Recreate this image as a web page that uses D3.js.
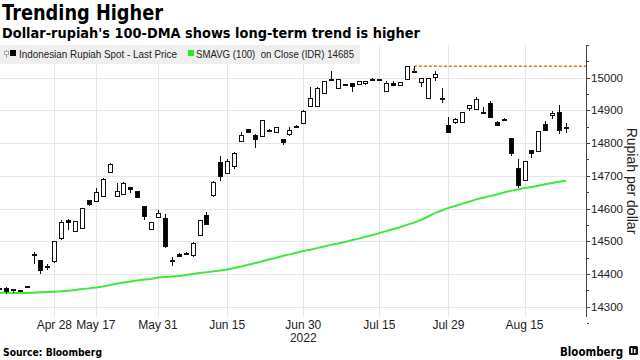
<!DOCTYPE html>
<html><head><meta charset="utf-8">
<script src="https://cdn.jsdelivr.net/npm/d3@7"></script>
<style>body{margin:0;background:#fff}svg{display:block}</style>
</head><body>
<svg id="c" width="640" height="360"></svg>
<script>
const dates = ["Apr 18","Apr 19","Apr 20","Apr 21","Apr 22","Apr 25","Apr 26","Apr 27","Apr 28",
"May 9","May 10","May 11","May 12","May 13","May 17","May 18","May 19","May 20","May 23","May 24","May 25","May 27","May 30","May 31",
"Jun 2","Jun 3","Jun 6","Jun 7","Jun 8","Jun 9","Jun 10","Jun 13","Jun 14","Jun 15","Jun 16","Jun 17","Jun 20","Jun 21","Jun 22","Jun 23","Jun 24","Jun 27","Jun 28","Jun 29","Jun 30",
"Jul 1","Jul 4","Jul 5","Jul 6","Jul 7","Jul 8","Jul 11","Jul 12","Jul 13","Jul 14","Jul 15","Jul 18","Jul 19","Jul 20","Jul 21","Jul 22","Jul 25","Jul 26","Jul 27","Jul 28","Jul 29",
"Aug 1","Aug 2","Aug 3","Aug 4","Aug 5","Aug 8","Aug 9","Aug 10","Aug 11","Aug 12","Aug 15","Aug 16","Aug 18","Aug 19","Aug 22","Aug 23","Aug 24"];
const open  = [14355,14357,14354,14349,14360,14459,14440,14420,14437,14507,14565,14529,14540,14625,14623,14636,14711,14638,14643,14663,14652,14606,14537,14572,14570,14439,14460,14464,14455,14517,14580,14641,14740,14708,14728,14806,14841,14822,14820,14838,14832,14810,14825,14849,14861,14911,14913,14952,14996,14968,14979,14983,14980,14981,14990,14994,14957,14981,14977,14996,15020,14985,14937,15000,14937,14855,14862,14864,14905,14903,14895,14922,14864,14872,14815,14723,14687,14776,14774,14858,14883,14894,14846];
const high  = [14358,14360,14355,14350,14363,14468,14442,14430,14501,14566,14568,14560,14601,14627,14664,14692,14738,14677,14680,14664,14655,14608,14560,14596,14583,14451,14463,14468,14497,14565,14590,14683,14762,14752,14772,14835,14843,14828,14872,14843,14849,14812,14850,14855,14900,14972,14971,14990,15021,14997,14981,14985,14990,14990,15000,14995,14991,14991,14988,15036,15035,14999,15000,15020,14970,14879,14876,14895,14918,14940,14911,14930,14867,14876,14817,14750,14745,14779,14837,14867,14897,14917,14862];
const low   = [14350,14339,14343,14344,14358,14430,14400,14412,14435,14505,14534,14527,14538,14607,14621,14634,14709,14636,14641,14648,14632,14565,14535,14570,14480,14425,14451,14457,14453,14515,14549,14634,14685,14705,14720,14804,14830,14784,14818,14836,14830,14794,14823,14846,14858,14909,14911,14950,14994,14966,14975,14957,14978,14978,14989,14992,14955,14976,14976,14994,15015,14972,14935,14990,14922,14831,14860,14862,14898,14901,14892,14876,14851,14870,14761,14662,14685,14754,14772,14836,14875,14828,14830];
const close = [14352,14346,14353,14345,14362,14461,14412,14422,14499,14558,14558,14559,14599,14613,14650,14689,14735,14651,14676,14658,14634,14577,14558,14584,14483,14441,14453,14459,14494,14563,14551,14681,14697,14745,14769,14823,14833,14812,14868,14840,14847,14803,14838,14851,14898,14937,14968,14988,14995,14995,14977,14972,14988,14987,14995,14993,14983,14977,14986,15034,15017,14998,14998,15011,14932,14833,14873,14893,14914,14934,14893,14878,14853,14873,14767,14669,14743,14769,14835,14838,14891,14838,14848];
// 100-day moving average read at each trading day
const sma = [14343,14343,14342,14342,14342,14343,14344,14345,14346,14347,14349,14351,14354,14356,14359,14362,14366,14370,14374,14377,14380,14383,14385,14389,14391,14392,14394,14397,14400,14403,14405,14408,14411,14414,14418,14423,14428,14433,14438,14444,14449,14455,14460,14465,14470,14474,14479,14484,14489,14493,14498,14503,14508,14514,14519,14525,14531,14537,14543,14550,14557,14565,14575,14586,14594,14602,14608,14615,14621,14628,14633,14638,14643,14649,14654,14658,14663,14666,14670,14674,14678,14682,14685];
const resistanceStart = 60, resistanceValue = 15035;
const xTickDates = ["Apr 28","May 17","May 31","Jun 15","Jun 30","Jul 15","Jul 29","Aug 15"];
const yTicks = [14300,14400,14500,14600,14700,14800,14900,15000];
const yMinor = [14250,14350,14450,14550,14650,14750,14850,14950,15050,15100];

const svg = d3.select("#c");
const W=640,H=360;
const plot = {left:0,right:586,top:45,bottom:317};
const x = d3.scaleLinear().domain([0, dates.length-1]).range([-1, 566]);
const y = d3.scaleLinear().domain([14300,15000]).range([306.7, 77.7]);
const FONT = "'Liberation Sans', Arial, sans-serif";

svg.append("rect").attr("width",W).attr("height",H).attr("fill","#fff");
svg.append("defs").append("clipPath").attr("id","clip").append("rect")
  .attr("x",plot.left).attr("y",plot.top).attr("width",plot.right-plot.left).attr("height",plot.bottom-plot.top);

// gridlines
const grid = svg.append("g").attr("shape-rendering","crispEdges");
grid.selectAll("line.h").data(yTicks).join("line")
  .attr("x1",plot.left).attr("x2",plot.right).attr("y1",d=>Math.round(y(d))+0.5).attr("y2",d=>Math.round(y(d))+0.5)
  .attr("stroke","#e6e6e6").attr("stroke-width",1);
grid.selectAll("line.v").data(xTickDates).join("line")
  .attr("y1",plot.top).attr("y2",plot.bottom)
  .attr("x1",d=>Math.round(x(dates.indexOf(d)))+0.5).attr("x2",d=>Math.round(x(dates.indexOf(d)))+0.5)
  .attr("stroke","#e6e6e6").attr("stroke-width",1);

// legend background
svg.append("rect").attr("x",0).attr("y",45).attr("width",360).attr("height",19).attr("fill","#efefef");
const lg = svg.append("g");
lg.append("line").attr("x1",6.5).attr("x2",6.5).attr("y1",50).attr("y2",58).attr("stroke","#aaa");
lg.append("rect").attr("x",4.5).attr("y",51.5).attr("width",4).attr("height",3).attr("fill","#fff").attr("stroke","#aaa");
lg.append("rect").attr("x",10).attr("y",50).attr("width",6).attr("height",6).attr("fill","#000");
lg.append("text").attr("x",19).attr("y",58).attr("font-family",FONT).attr("font-size",11.5).attr("fill","#222")
  .attr("textLength",158).attr("lengthAdjust","spacingAndGlyphs")
  .text("Indonesian Rupiah Spot - Last Price");
lg.append("rect").attr("x",188).attr("y",50).attr("width",6).attr("height",6).attr("fill","#2ee62e");
lg.append("text").attr("x",196).attr("y",58).attr("font-family",FONT).attr("font-size",11.5).attr("fill","#222")
  .attr("textLength",158).attr("lengthAdjust","spacingAndGlyphs")
  .attr("xml:space","preserve").text("SMAVG (100)  on Close (IDR) 14685");

const g = svg.append("g").attr("clip-path","url(#clip)");

// SMA line
g.append("path").datum(sma).attr("fill","none").attr("stroke","#3ee83e").attr("stroke-width",2)
  .attr("d", d3.line().x((d,i)=>x(i)).y(d=>y(d)));

// resistance line
g.append("path").attr("fill","none").attr("stroke","#d9792f").attr("stroke-width",1.3).attr("stroke-dasharray","3,2")
  .attr("d", `M${x(resistanceStart)},${y(resistanceValue)+5}V${y(resistanceValue)}H${plot.right}`);

// candles
const bw = (x(1)-x(0))*0.66;
const cg = g.append("g").attr("shape-rendering","crispEdges");
dates.forEach((d,i)=>{
  const cx = Math.round(x(i))+0.5;
  const o=open[i], c=close[i];
  cg.append("line").attr("x1",cx).attr("x2",cx).attr("y1",y(high[i])).attr("y2",y(low[i])).attr("stroke","#111").attr("stroke-width",1);
  const top = y(Math.max(o,c)), bot = y(Math.min(o,c));
  cg.append("rect").attr("x",cx-bw/2).attr("y",top).attr("width",bw).attr("height",Math.max(1,bot-top))
    .attr("fill", c>=o ? "#fff" : "#000").attr("stroke","#111").attr("stroke-width",1);
});

// y axis on right
const ax = svg.append("g").attr("shape-rendering","crispEdges");
ax.append("line").attr("x1",586.5).attr("x2",586.5).attr("y1",plot.top).attr("y2",plot.bottom).attr("stroke","#444");
ax.selectAll("line.maj").data(yTicks).join("line")
  .attr("x1",586.5).attr("x2",590).attr("y1",d=>Math.round(y(d))+0.5).attr("y2",d=>Math.round(y(d))+0.5).attr("stroke","#444");
ax.selectAll("line.min").data(yMinor).join("line")
  .attr("x1",586.5).attr("x2",589).attr("y1",d=>Math.round(y(d))+0.5).attr("y2",d=>Math.round(y(d))+0.5).attr("stroke","#444");
ax.selectAll("text").data(yTicks).join("text")
  .attr("x",591).attr("y",d=>y(d)+4).attr("font-family",FONT).attr("font-size",11.5).attr("fill","#222").text(d=>d);
svg.append("text").attr("transform","translate(627,181) rotate(90)").attr("text-anchor","middle")
  .attr("font-family",FONT).attr("font-size",14).attr("fill","#222").text("Rupiah per dollar");

// x axis labels
svg.selectAll("text.xl").data(xTickDates).join("text")
  .attr("x",d=>x(dates.indexOf(d))).attr("y",329).attr("text-anchor","middle")
  .attr("font-family",FONT).attr("font-size",12).attr("fill","#222").text(d=>d);
svg.append("text").attr("x",x(dates.indexOf("Jun 30"))).attr("y",342).attr("text-anchor","middle")
  .attr("font-family",FONT).attr("font-size",12).attr("fill","#222").text("2022");

// titles
svg.append("text").attr("x",2).attr("y",20).attr("font-family","'DejaVu Sans', sans-serif").attr("font-weight","bold")
  .attr("font-size",21).attr("textLength",161).attr("lengthAdjust","spacingAndGlyphs").attr("fill","#000").text("Trending Higher");
svg.append("text").attr("x",2).attr("y",38).attr("font-family","'DejaVu Sans', sans-serif").attr("font-weight","bold")
  .attr("font-size",13.5).attr("textLength",418).attr("lengthAdjust","spacingAndGlyphs").attr("fill","#000")
  .text("Dollar-rupiah's 100-DMA shows long-term trend is higher");

// footer
svg.append("text").attr("x",3).attr("y",356).attr("font-family","'DejaVu Sans', sans-serif").attr("font-weight","bold")
  .attr("font-size",10.5).attr("textLength",99).attr("lengthAdjust","spacingAndGlyphs").attr("fill","#000").text("Source: Bloomberg");
svg.append("text").attr("x",560).attr("y",356).attr("font-family","'DejaVu Sans', sans-serif").attr("font-weight","bold")
  .attr("font-size",13).attr("textLength",63).attr("lengthAdjust","spacingAndGlyphs").attr("fill","#000").text("Bloomberg");
svg.append("rect").attr("x",629).attr("y",346).attr("width",9).attr("height",9).attr("rx",1.5).attr("fill","#111");
svg.append("rect").attr("x",631).attr("y",348).attr("width",1.5).attr("height",5).attr("fill","#fff");
svg.append("rect").attr("x",634).attr("y",349).attr("width",1.5).attr("height",4).attr("fill","#fff");
</script>
</body></html>
